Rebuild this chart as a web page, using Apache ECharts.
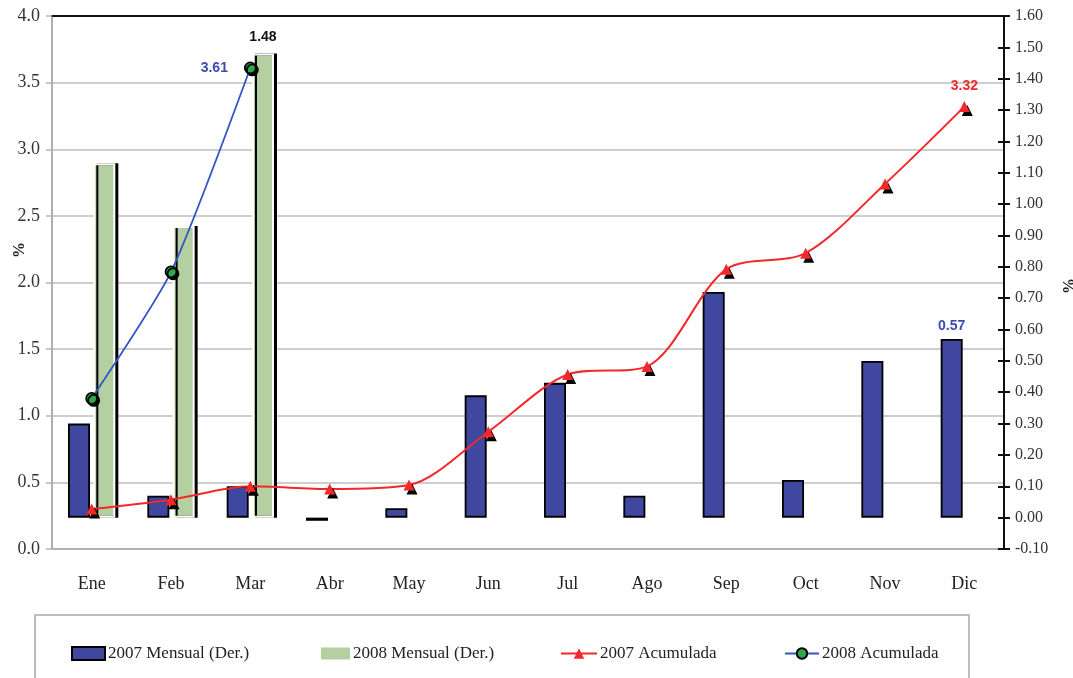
<!DOCTYPE html>
<html>
<head>
<meta charset="utf-8">
<script src="https://cdn.jsdelivr.net/npm/echarts@6/dist/echarts.min.js"></script>
<style>
  html, body { margin: 0; padding: 0; background: #fff; }
  #chart { width: 1073px; height: 678px; }
</style>
</head>
<body>
<div id="chart"></div>
<script>
// Months
const categories = ['Ene', 'Feb', 'Mar', 'Abr', 'May', 'Jun', 'Jul', 'Ago', 'Sep', 'Oct', 'Nov', 'Dic'];

// Monthly variation (right axis, %)
const mensual2007 = [0.30, 0.07, 0.10, -0.01, 0.03, 0.39, 0.43, 0.07, 0.72, 0.12, 0.50, 0.57];
const mensual2008 = [1.13, 0.93, 1.48];

// Accumulated variation (left axis, %)
const acumulada2007 = [0.30, 0.37, 0.47, 0.45, 0.48, 0.88, 1.31, 1.37, 2.10, 2.22, 2.74, 3.32];
const acumulada2008 = [1.13, 2.08, 3.61];

// Axis ranges
const leftAxisRange = { min: 0, max: 4, interval: 0.5 };
const rightAxisRange = { min: -0.1, max: 1.6, interval: 0.1 };

const serif = '"Liberation Serif", "Times New Roman", serif';
const sans = '"Liberation Sans", Arial, sans-serif';

const COLOR_BLUE_BAR = '#3F479E';
const COLOR_GREEN_BAR = '#B4CFA0';
const COLOR_RED = '#F4282A';
const COLOR_BLUE_LINE = '#3355C4';
const COLOR_GREEN_MARK = '#2EA84A';

// Attach a value label to one point of a series
function withLabel(values, index, label) {
  return values.map((v, i) => i === index ? { value: v, label: Object.assign({ show: true }, label) } : v);
}

const labelFont = { fontFamily: sans, fontWeight: 'bold', fontSize: 14 };
const legendText = { fontFamily: serif, fontSize: 17, color: '#222', padding: [0, 0, 0, -2] };

const chart = echarts.init(document.getElementById('chart'), null, { renderer: 'canvas' });

chart.setOption({
  animation: false,
  backgroundColor: '#ffffff',
  grid: { left: 52, right: 69, top: 16, bottom: 129, containLabel: false, outerBoundsMode: 'none' },
  xAxis: [
    {
      type: 'category',
      data: categories,
      boundaryGap: true,
      axisLine: { show: true, onZero: false, lineStyle: { color: '#B0B0B0', width: 2 } },
      axisTick: { show: false },
      axisLabel: { fontFamily: serif, fontSize: 18, color: '#222', margin: 26 }
    },
    {
      type: 'category',
      data: categories,
      position: 'top',
      axisLine: { show: true, onZero: false, lineStyle: { color: '#111', width: 2 } },
      axisTick: { show: false },
      axisLabel: { show: false }
    }
  ],
  yAxis: [
    {
      type: 'value',
      position: 'left',
      min: leftAxisRange.min,
      max: leftAxisRange.max,
      interval: leftAxisRange.interval,
      axisLine: { show: true, lineStyle: { color: '#AFAFAF', width: 2 } },
      axisTick: { show: true, length: 6, lineStyle: { color: '#B5B5B5', width: 1.5 } },
      axisLabel: {
        fontFamily: serif, fontSize: 18, color: '#333', margin: 12,
        formatter: v => v.toFixed(1)
      },
      splitLine: { show: true, lineStyle: { color: '#BEBEBE', width: 1.5 } }
    },
    {
      type: 'value',
      position: 'right',
      min: rightAxisRange.min,
      max: rightAxisRange.max,
      interval: rightAxisRange.interval,
      axisLine: { show: true, lineStyle: { color: '#111', width: 2 } },
      axisTick: { show: true, length: 6, lineStyle: { color: '#111', width: 2 } },
      axisLabel: {
        fontFamily: serif, fontSize: 16, color: '#333', margin: 11,
        formatter: v => v.toFixed(2)
      },
      splitLine: { show: false }
    },
    {
      // inner half of the cross ticks on the right axis
      type: 'value',
      position: 'right',
      min: rightAxisRange.min,
      max: rightAxisRange.max,
      interval: rightAxisRange.interval,
      axisLine: { show: false },
      axisTick: { show: true, inside: true, length: 6, lineStyle: { color: '#111', width: 2 } },
      axisLabel: { show: false },
      splitLine: { show: false }
    }
  ],
  legend: [
    {
      data: [{ name: '2007 Mensual (Der.)', icon: 'rect' }], left: 71, top: 645, padding: 0,
      itemWidth: 33, itemHeight: 13, itemGap: 0,
      textStyle: legendText
    },
    {
      data: [{ name: '2008 Mensual (Der.)', icon: 'rect' }], left: 321, top: 645, padding: 0,
      itemWidth: 29, itemHeight: 12, itemGap: 0,
      itemStyle: { shadowColor: 'rgba(0,0,0,0)', borderWidth: 0 },
      textStyle: legendText
    },
    {
      data: ['2007 Acumulada'], left: 560, top: 645, padding: 0,
      itemWidth: 36, itemHeight: 13, itemGap: 0,
      itemStyle: { shadowColor: 'rgba(0,0,0,0)' },
      textStyle: legendText
    },
    {
      data: ['2008 Acumulada'], left: 784, top: 645, padding: 0,
      itemWidth: 34, itemHeight: 13, itemGap: 0,
      itemStyle: { shadowColor: 'rgba(0,0,0,0)' },
      textStyle: legendText
    }
  ],
  graphic: [
    {
      type: 'rect',
      silent: true,
      shape: { x: 35, y: 615, width: 934, height: 90 },
      style: { fill: 'none', stroke: '#BDBDBD', lineWidth: 2 }
    },
    {
      // left axis unit
      type: 'text',
      silent: true,
      x: 20, y: 250, rotation: Math.PI / 2,
      style: { text: '%', fontFamily: serif, fontSize: 16, fontWeight: 'bold', fill: '#222', align: 'center', verticalAlign: 'middle' }
    },
    {
      // right axis unit
      type: 'text',
      silent: true,
      x: 1070, y: 286, rotation: Math.PI / 2,
      style: { text: '%', fontFamily: serif, fontSize: 16, fontWeight: 'bold', fill: '#222', align: 'center', verticalAlign: 'middle' }
    }
  ],
  series: [
    {
      name: '2007 Mensual (Der.)',
      type: 'bar',
      xAxisIndex: 0,
      yAxisIndex: 1,
      barWidth: 22,
      barGap: '15%',
      data: withLabel(mensual2007, 11, Object.assign({
        position: 'top', distance: 6, color: '#3B4BB0', formatter: p => p.value.toFixed(2)
      }, labelFont)),
      itemStyle: { color: COLOR_BLUE_BAR, borderColor: '#000', borderWidth: 1.8 },
      z: 2
    },
    {
      name: '2008 Mensual (Der.)',
      type: 'bar',
      xAxisIndex: 0,
      yAxisIndex: 1,
      barWidth: 22,
      data: withLabel(mensual2008, 2, Object.assign({
        position: 'top', distance: 9, color: '#111', formatter: p => p.value.toFixed(2)
      }, labelFont)),
      itemStyle: {
        color: COLOR_GREEN_BAR,
        borderColor: '#ffffff',
        borderWidth: 2,
        shadowColor: '#000',
        shadowBlur: 0,
        shadowOffsetX: 3,
        shadowOffsetY: 0
      },
      z: 2
    },
    {
      name: '2007 Acumulada',
      type: 'line',
      xAxisIndex: 0,
      yAxisIndex: 0,
      smooth: 0.3,
      symbol: 'triangle',
      symbolSize: 11,
      data: withLabel(acumulada2007, 11, Object.assign({
        position: 'top', distance: 8, color: COLOR_RED, formatter: p => p.value.toFixed(2)
      }, labelFont)),
      lineStyle: { color: COLOR_RED, width: 2 },
      itemStyle: {
        color: COLOR_RED,
        shadowColor: '#000',
        shadowBlur: 0,
        shadowOffsetX: 3,
        shadowOffsetY: 4
      },
      z: 5
    },
    {
      name: '2008 Acumulada',
      type: 'line',
      xAxisIndex: 0,
      yAxisIndex: 0,
      smooth: 0.2,
      symbol: 'circle',
      symbolSize: 11,
      data: withLabel(acumulada2008, 2, Object.assign({
        position: 'left', distance: 16, color: '#3B4BB0', formatter: p => p.value.toFixed(2)
      }, labelFont)),
      lineStyle: { color: COLOR_BLUE_LINE, width: 1.8 },
      itemStyle: {
        color: COLOR_GREEN_MARK,
        borderColor: '#000',
        borderWidth: 1.8,
        shadowColor: '#000',
        shadowBlur: 0,
        shadowOffsetX: 2,
        shadowOffsetY: 2
      },
      z: 6
    }
  ]
});
</script>
</body>
</html>
